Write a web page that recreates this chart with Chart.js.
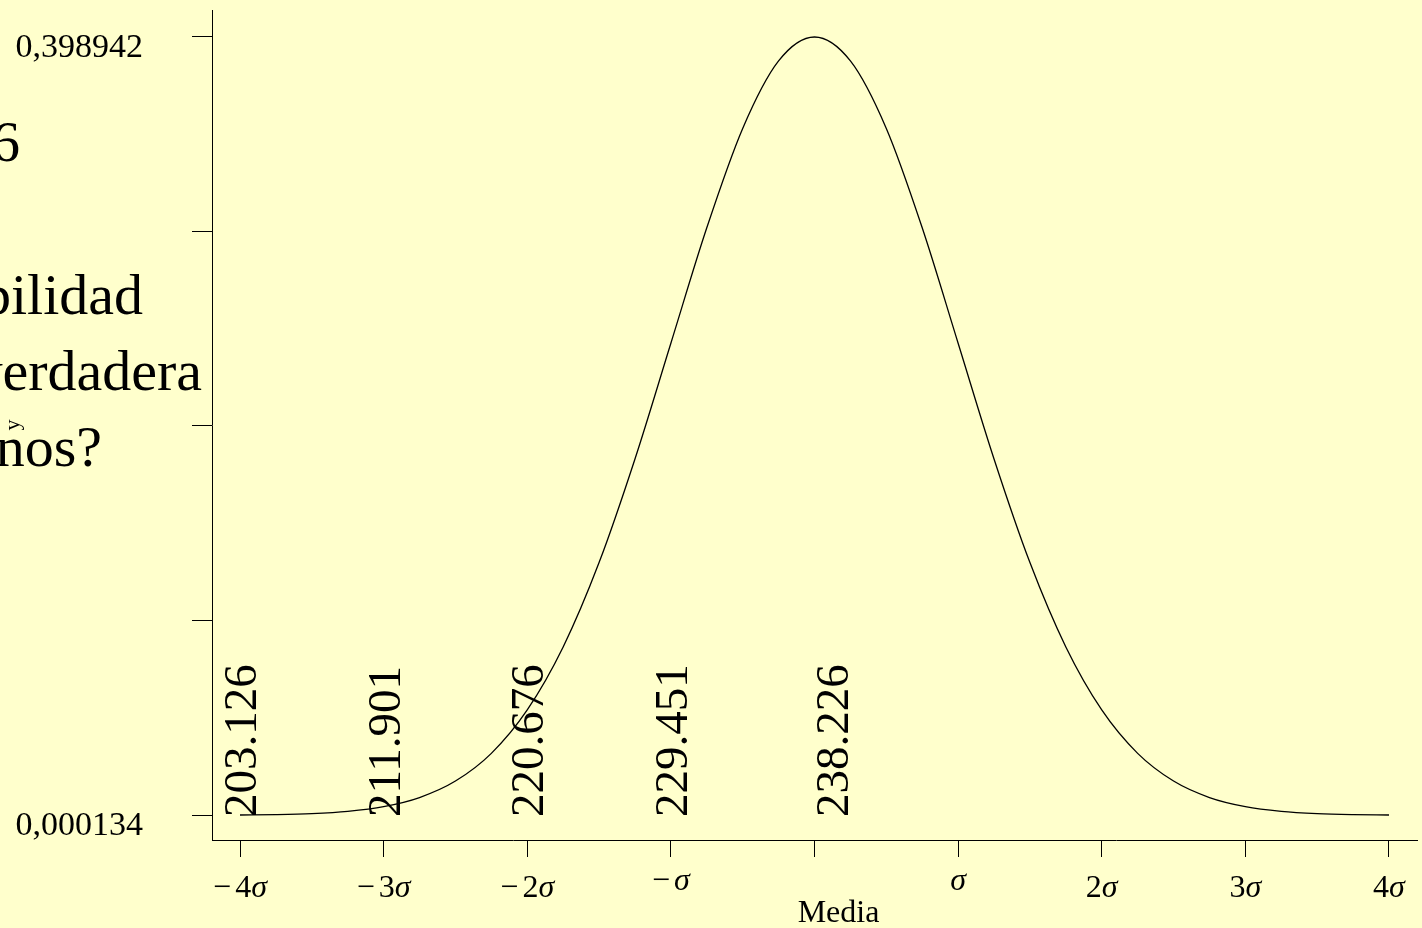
<!DOCTYPE html>
<html lang="es">
<head>
<meta charset="utf-8">
<title>Distribución normal</title>
<script src="https://cdn.jsdelivr.net/npm/chart.js@4.4.1/dist/chart.umd.min.js"></script>
<style>
  html, body { margin: 0; padding: 0; background: #FFFFCC; }
  #wrap { width: 1422px; height: 928px; position: relative; }
</style>
</head>
<body>
<div id="wrap"><canvas id="chart"></canvas></div>
<script>
// Standard deviations from the mean (x) and the density of the curve at each one (y)
const sigmaSteps = [-4, -3.75, -3.5, -3.25, -3, -2.75, -2.5, -2.25, -2, -1.75, -1.5, -1.25, -1, -0.75, -0.5, -0.25,
                    0, 0.25, 0.5, 0.75, 1, 1.25, 1.5, 1.75, 2, 2.25, 2.5, 2.75, 3, 3.25, 3.5, 3.75, 4];
const density = [0.000134, 0.000353, 0.000873, 0.002029, 0.004432, 0.009094, 0.017528, 0.031740, 0.053991,
                 0.086277, 0.129518, 0.182649, 0.241971, 0.301137, 0.352065, 0.386668,
                 0.398942,
                 0.386668, 0.352065, 0.301137, 0.241971, 0.182649, 0.129518, 0.086277, 0.053991,
                 0.031740, 0.017528, 0.009094, 0.004432, 0.002029, 0.000873, 0.000353, 0.000134];

// Axis ticks
const xTickValues = [-4, -3, -2, -1, 0, 1, 2, 3, 4];
const xTickPrefix = ['\u22124', '\u22123', '\u22122', '\u2212', '', '', '2', '3', '4'];
const xTickSymbol = ['\u03C3', '\u03C3', '\u03C3', '\u03C3', '', '\u03C3', '\u03C3', '\u03C3', '\u03C3'];
const yTickValues = [0.000134, 0.099836, 0.199538, 0.299240, 0.398942];
const yTickLabels = ['0,000134', '', '', '', '0,398942'];

// Values of the variable written vertically at each step below the mean
const markerSteps = [-4, -3, -2, -1, 0];
const markerValues = ['203.126', '211.901', '220.676', '229.451', '238.226'];

// Text lines of the slide that sits behind the plot
const slideLines = ['6', 'bilidad', 'verdadera', 'nos?'];
const slideRight = [20, 143, 202, 102];
const slideBaseline = [161, 314, 390, 466];

const PAGE_BG = '#FFFFCC';
const INK = '#000000';
const SERIF = '"Liberation Serif", "Times New Roman", serif';

const points = sigmaSteps.map((s, i) => ({ x: s, y: density[i] }));

const decorations = {
  id: 'decorations',
  beforeDraw(chart) {
    const { ctx, width, height } = chart;
    ctx.save();
    ctx.fillStyle = PAGE_BG;
    ctx.fillRect(0, 0, width, height);
    ctx.fillStyle = INK;
    ctx.font = '58px ' + SERIF;
    ctx.textAlign = 'right';
    ctx.textBaseline = 'alphabetic';
    slideLines.forEach((t, i) => ctx.fillText(t, slideRight[i], slideBaseline[i]));
    ctx.restore();
  },
  afterDraw(chart) {
    const { ctx } = chart;
    const xs = chart.scales.x;
    const ys = chart.scales.y;
    ctx.save();
    ctx.fillStyle = INK;

    // x tick labels: upright multiplier, italic sigma
    ctx.textBaseline = 'alphabetic';
    ctx.textAlign = 'left';
    xs.ticks.forEach((t) => {
      const i = xTickValues.indexOf(t.value);
      if (i < 0 || !xTickSymbol[i]) return;
      const pre = xTickPrefix[i];
      const sym = xTickSymbol[i];
      ctx.font = '32px ' + SERIF;
      const hasMinus = pre.startsWith('\u2212');
      const gap = hasMinus ? 4 : 0;
      const wMinus = hasMinus ? ctx.measureText('\u2212').width : 0;
      const rest = hasMinus ? pre.slice(1) : pre;
      const wRest = ctx.measureText(rest).width;
      ctx.font = 'italic 32px ' + SERIF;
      const wSym = ctx.measureText(sym).width;
      const total = wMinus + gap + wRest + wSym;
      let x = xs.getPixelForValue(t.value) - total / 2;
      const y = rest ? 897 : 890;
      ctx.font = '32px ' + SERIF;
      if (wMinus) { ctx.fillText('\u2212', x, y); x += wMinus + gap; }
      if (rest) { ctx.fillText(rest, x, y); x += wRest; }
      ctx.font = 'italic 32px ' + SERIF;
      ctx.fillText(sym, x, y);
    });

    // variable values written upward from the baseline of the curve
    const base = ys.getPixelForValue(yTickValues[0]) + 2;
    ctx.font = '47px ' + SERIF;
    ctx.textAlign = 'left';
    markerSteps.forEach((s, i) => {
      const px = xs.getPixelForValue(s) + (s === 0 ? 17 : 0);
      ctx.save();
      ctx.translate(px + 16, base);
      ctx.rotate(-Math.PI / 2);
      ctx.fillText(markerValues[i], 0, 0);
      ctx.restore();
    });

    ctx.font = '32px ' + SERIF;
    ctx.textAlign = 'center';
    ctx.fillText('Media', xs.getPixelForValue(0) + 24, 922);
    ctx.restore();
  }
};

new Chart(document.getElementById('chart'), {
  type: 'line',
  data: {
    datasets: [{
      data: points,
      borderColor: INK,
      borderWidth: 1.3,
      pointRadius: 0,
      fill: false,
      cubicInterpolationMode: 'monotone'
    }]
  },
  options: {
    responsive: true,
    maintainAspectRatio: false,
    animation: false,
    layout: { padding: { top: 10, right: 5, left: 0, bottom: 0 } },
    plugins: { legend: { display: false }, tooltip: { enabled: false } },
    scales: {
      x: {
        type: 'linear',
        min: -4.195,
        max: 4.195,
        afterBuildTicks: (scale) => { scale.ticks = xTickValues.map(v => ({ value: v })); },
        afterFit: (scale) => {
          scale.height = 88;
          scale.paddingLeft = 0; scale.paddingRight = 0;
        },
        grid: { drawOnChartArea: false, drawTicks: true, tickLength: 17, tickColor: INK, color: INK },
        border: { display: true, color: INK, width: 1 },
        ticks: { display: false, autoSkip: false, maxRotation: 0 }
      },
      y: {
        type: 'linear',
        min: -0.01268,
        max: 0.41278,
        afterBuildTicks: (scale) => { scale.ticks = yTickValues.map(v => ({ value: v })); },
        afterFit: (scale) => {
          scale.width = 212;
          scale.paddingTop = 0; scale.paddingBottom = 0;
        },
        grid: { drawOnChartArea: false, drawTicks: true, tickLength: 20, tickColor: INK, color: INK },
        border: { display: true, color: INK, width: 1 },
        title: { display: true, text: 'y', color: INK, font: { family: SERIF, size: 22 }, padding: { top: 0, bottom: 0 } },
        ticks: {
          autoSkip: false,
          padding: 49,
          labelOffset: 11,
          color: INK,
          font: { family: SERIF, size: 34 },
          callback: (v) => {
            const i = yTickValues.indexOf(v);
            return i >= 0 ? yTickLabels[i] : '';
          }
        }
      }
    }
  },
  plugins: [decorations]
});
</script>
</body>
</html>
